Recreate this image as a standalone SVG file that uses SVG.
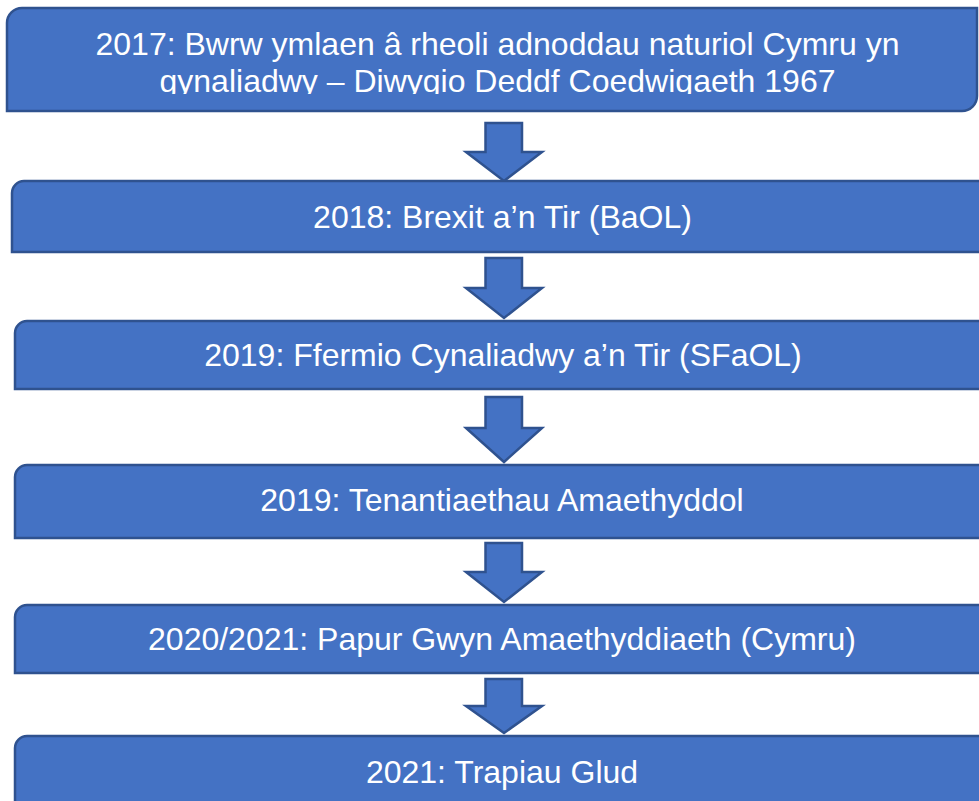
<svg xmlns="http://www.w3.org/2000/svg" width="979" height="801" viewBox="0 0 979 801">
<defs>
<style>
.box{fill:#4472C4;stroke:#2F528F;stroke-width:2.5}
.arr{fill:#4472C4;stroke:#2F528F;stroke-width:2.5;stroke-linejoin:miter}
.t{font-family:"Liberation Sans",Arial,sans-serif;font-size:32px;fill:#FFFFFF;text-anchor:middle}
</style>
<clipPath id="c1"><rect x="0" y="0" width="979" height="94"/></clipPath>
</defs>
<rect width="979" height="801" fill="#FFFFFF"/>
<g id="connectors">
<path class="arr" d="M485.5,123 H522 V152 H542 L504,181 L466,152 H485.5 Z"/>
<path class="arr" d="M485.5,258 H522 V288 H542 L504,318 L466,288 H485.5 Z"/>
<path class="arr" d="M485.5,397 H522 V428 H542 L504,462 L466,428 H485.5 Z"/>
<path class="arr" d="M485.5,543 H522 V572 H542 L504,602 L466,572 H485.5 Z"/>
<path class="arr" d="M485.5,679 H522 V706 H542 L504,733 L466,706 H485.5 Z"/>
</g>
<g id="n1">
<path class="box" d="M22,8 H977 V96 A15,15 0 0 1 962,111 H7 V23 A15,15 0 0 1 22,8 Z"/>
<g clip-path="url(#c1)">
<text class="t" x="497.5" y="55">2017: Bwrw ymlaen â rheoli adnoddau naturiol Cymru yn</text>
<text class="t" x="497.5" y="92">gynaliadwy – Diwygio Deddf Coedwigaeth 1967</text>
</g>
</g>
<g id="n2">
<path class="box" d="M24,181 H995 V240 A12,12 0 0 1 983,252 H12 V193 A12,12 0 0 1 24,181 Z"/>
<text class="t" x="502.5" y="228">2018: Brexit a’n Tir (BaOL)</text>
</g>
<g id="n3">
<path class="box" d="M27,321 H995 V377 A12,12 0 0 1 983,389 H15 V333 A12,12 0 0 1 27,321 Z"/>
<text class="t" x="503" y="366">2019: Ffermio Cynaliadwy a’n Tir (SFaOL)</text>
</g>
<g id="n4">
<path class="box" d="M27,465 H995 V526 A12,12 0 0 1 983,538 H15 V477 A12,12 0 0 1 27,465 Z"/>
<text class="t" x="502" y="511">2019: Tenantiaethau Amaethyddol</text>
</g>
<g id="n5">
<path class="box" d="M27,605 H995 V661 A12,12 0 0 1 983,673 H15 V617 A12,12 0 0 1 27,605 Z"/>
<text class="t" x="502" y="650">2020/2021: Papur Gwyn Amaethyddiaeth (Cymru)</text>
</g>
<g id="n6">
<path class="box" d="M27,736 H995 V808 A12,12 0 0 1 983,820 H15 V748 A12,12 0 0 1 27,736 Z"/>
<text class="t" x="502" y="783">2021: Trapiau Glud</text>
</g>
</svg>
